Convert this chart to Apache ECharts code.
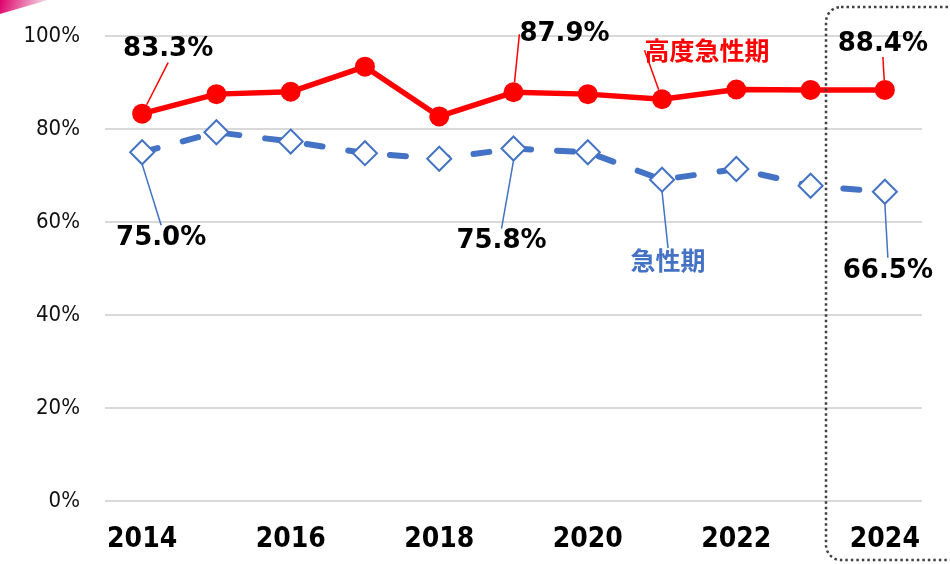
<!DOCTYPE html>
<html>
<head>
<meta charset="utf-8">
<script src="https://cdn.jsdelivr.net/npm/echarts@6/dist/echarts.min.js"></script>
<style>
  html, body { margin: 0; padding: 0; background: #fff; }
  #chart { width: 950px; height: 564px; }
</style>
</head>
<body>
<div id="chart"></div>
<script>
const years = ['2014', '2015', '2016', '2017', '2018', '2019', '2020', '2021', '2022', '2023', '2024'];
const highAcute = [83.3, 87.5, 88.0, 93.4, 82.7, 87.9, 87.5, 86.4, 88.5, 88.4, 88.4];
const acute = [75.0, 79.3, 77.3, 74.8, 73.6, 75.8, 75.0, 69.1, 71.4, 67.8, 66.5];
const highAcuteName = '高度急性期';
const acuteName = '急性期';

// which points get a callout, and where the callout sits relative to the point
const redCallouts = { 0: [26, -64], 5: [51, -58], 7: [45, -49], 10: [-2, -46] };
const blueCallouts = { 0: [19, 86], 5: [-12, 93], 7: [6, 81], 10: [3, 79] };
const redNameIndex = 7;
const blueNameIndex = 7;

const RED = '#ff0000';
const BLUE = '#4472c4';

function buildData(values, callouts, nameIndex, name, color) {
  return values.map((v, i) => {
    if (!(i in callouts)) return v;
    const isName = i === nameIndex;
    return {
      value: v,
      label: {
        show: true,
        position: 'inside',
        formatter: isName ? name : v.toFixed(1) + '%',
        color: isName ? color : '#000',
        fontSize: isName ? 25 : 26,
        fontWeight: 'bold',
        fontFamily: isName ? '"Noto Sans CJK JP", sans-serif' : '"DejaVu Sans", sans-serif',
        padding: [6, 4]
      },
      labelLine: { show: true, lineStyle: { color: color, width: 1.5 } }
    };
  });
}

const chart = echarts.init(document.getElementById('chart'));

chart.setOption({
  animation: false,
  backgroundColor: '#fff',
  grid: { left: 105, right: 28, top: 36, bottom: 63, containLabel: false },
  xAxis: {
    type: 'category',
    data: years,
    boundaryGap: true,
    axisLine: { show: false },
    axisTick: { show: false },
    axisLabel: {
      interval: 1,
      margin: 25,
      color: '#000',
      fontSize: 28,
      fontWeight: 'bold',
      fontFamily: '"DejaVu Sans Condensed", "DejaVu Sans", sans-serif'
    }
  },
  yAxis: {
    type: 'value',
    min: 0,
    max: 100,
    interval: 20,
    axisLine: { show: false },
    axisTick: { show: false },
    axisLabel: {
      formatter: '{value}%',
      margin: 25,
      color: '#111',
      fontSize: 22,
      fontFamily: '"DejaVu Sans Condensed", "DejaVu Sans", sans-serif'
    },
    splitLine: { lineStyle: { color: '#d9d9d9', width: 2 } }
  },
  series: [
    {
      name: acuteName,
      type: 'line',
      data: buildData(acute, blueCallouts, blueNameIndex, acuteName, BLUE),
      symbol: 'diamond',
      symbolSize: 24,
      lineStyle: { color: BLUE, width: 6, type: [16, 26], cap: 'round' },
      itemStyle: { color: '#fff', borderColor: BLUE, borderWidth: 2 },
      labelLayout: p => {
        const o = blueCallouts[p.dataIndex];
        return o ? { dx: o[0], dy: o[1] } : {};
      },
      z: 2
    },
    {
      name: highAcuteName,
      type: 'line',
      data: buildData(highAcute, redCallouts, redNameIndex, highAcuteName, RED),
      symbol: 'circle',
      symbolSize: 20,
      lineStyle: { color: RED, width: 5.5 },
      itemStyle: { color: RED },
      labelLayout: p => {
        const o = redCallouts[p.dataIndex];
        return o ? { dx: o[0], dy: o[1] } : {};
      },
      z: 3
    }
  ],
  graphic: [
    {
      type: 'rect',
      shape: { x: 826, y: 7, width: 150, height: 553, r: 15 },
      style: { fill: 'none', stroke: '#404040', lineWidth: 2.5, lineDash: [2.5, 3] },
      z: 10
    },
    {
      type: 'polygon',
      shape: { points: [[0, 0], [48, 0], [0, 14]] },
      style: {
        fill: new echarts.graphic.LinearGradient(0, 0, 1, 1, [
          { offset: 0, color: '#e0006a' },
          { offset: 1, color: '#f4f4f4' }
        ])
      }
    }
  ]
});
</script>
</body>
</html>
